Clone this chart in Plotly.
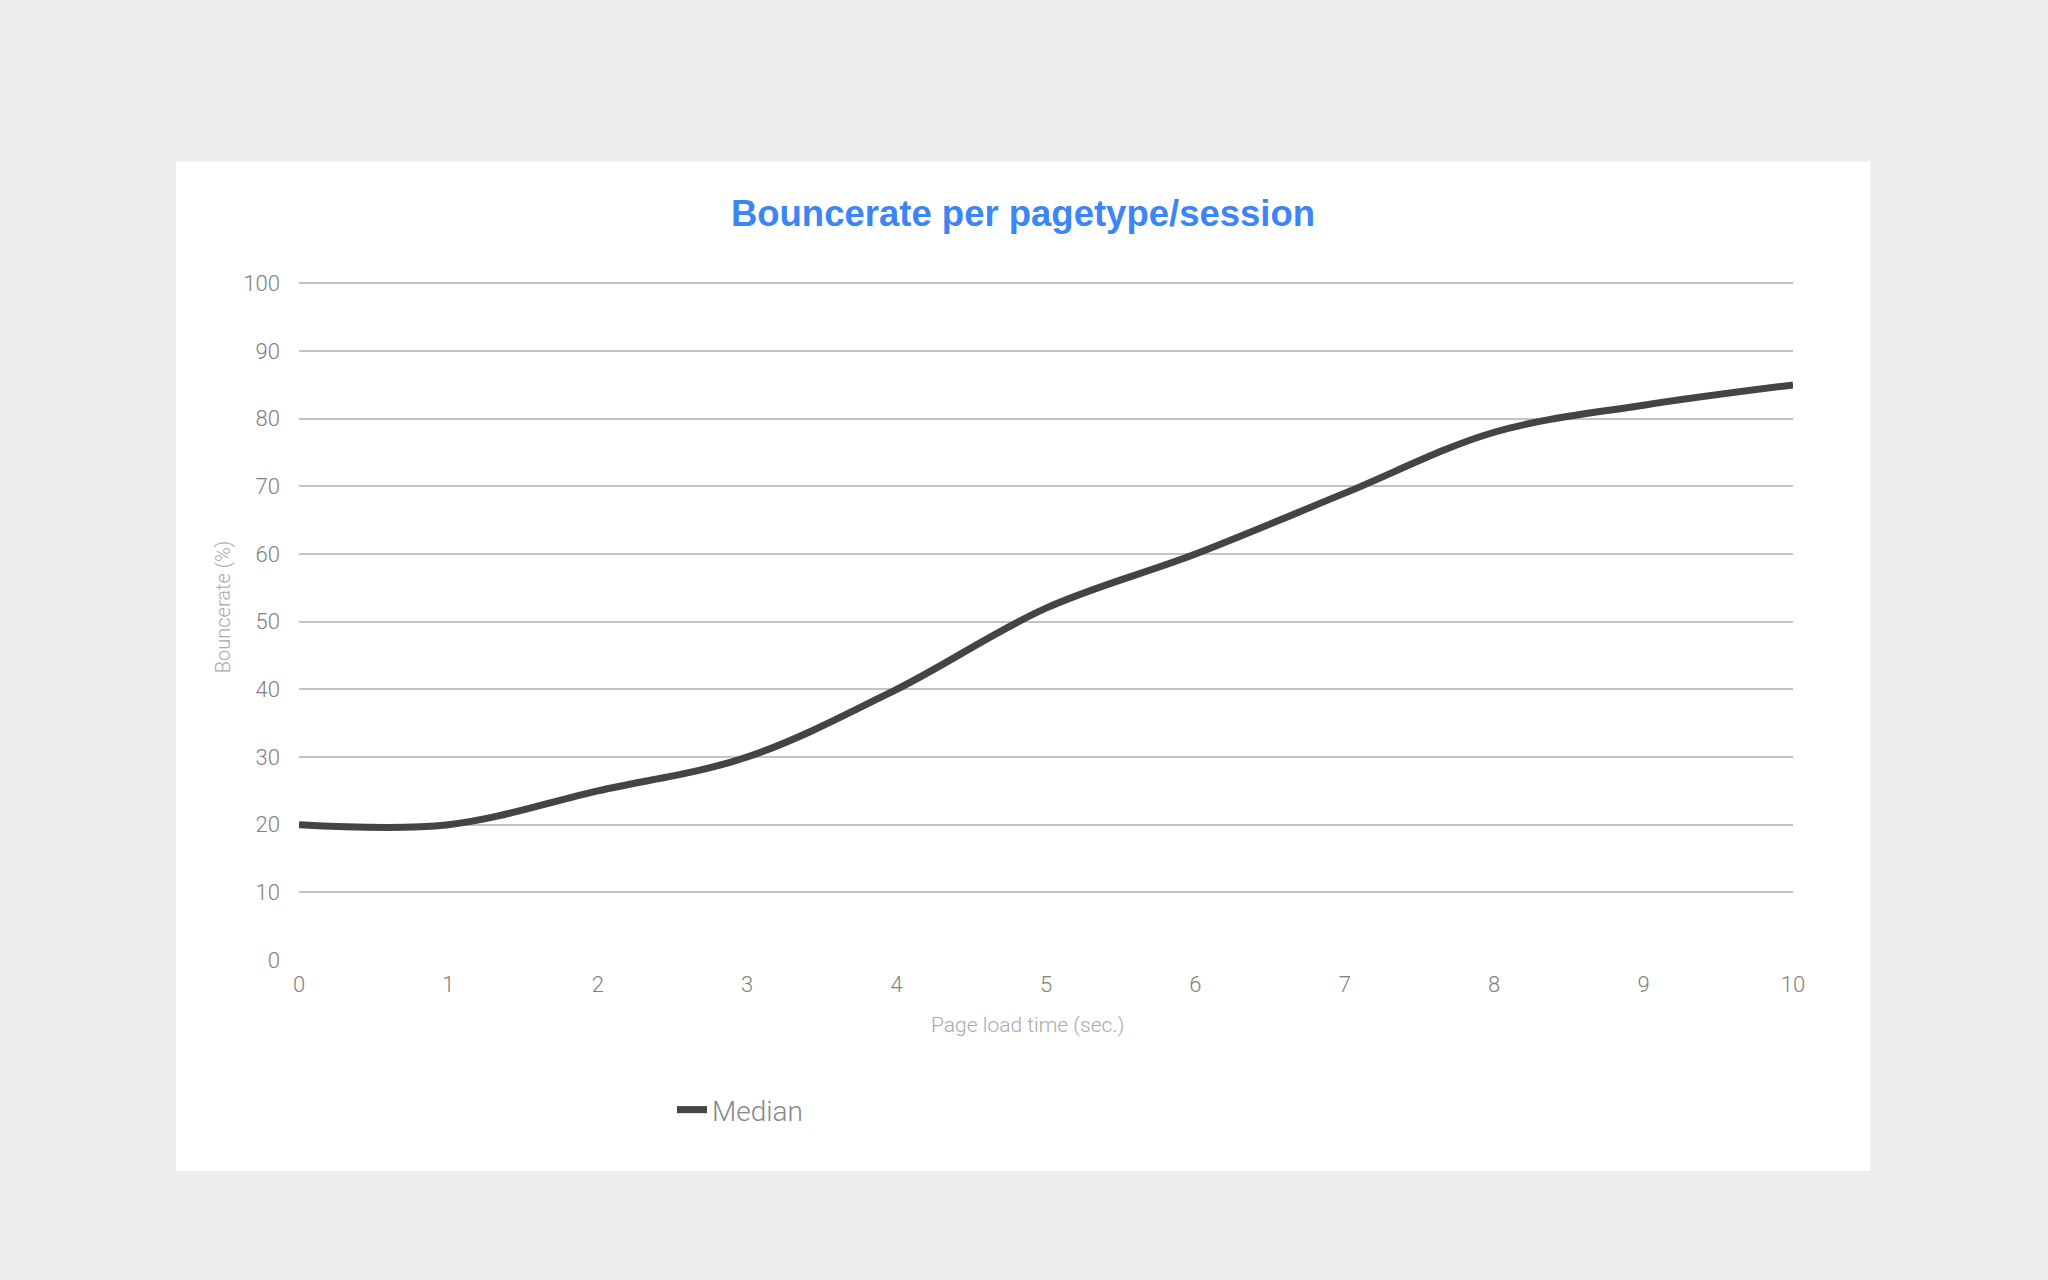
import plotly.graph_objects as go

load_time = [0, 1, 2, 3, 4, 5, 6, 7, 8, 9, 10]
median_bounce = [20, 20, 25, 30, 40, 52, 60, 69, 78, 82, 85]
y_ticks = [0, 10, 20, 30, 40, 50, 60, 70, 80, 90, 100]

W, H = 2048, 1280
Y_MAX = 100.5
L, R, B = 299, 1793, 960
T = 283 - (Y_MAX - 100) * (960 - 283) / 100
pw, ph = R - L, B - T

def px(x):
    return (x - L) / pw

def py(y):
    return (B - y) / ph

fig = go.Figure()
fig.add_trace(go.Scatter(
    x=load_time, y=median_bounce, mode="lines", name="Median",
    line=dict(color="#444444", width=7, shape="spline", smoothing=1.0),
))

fig.update_layout(
    width=W, height=H,
    margin=dict(l=L, r=W - R, t=T, b=H - B, pad=0),
    paper_bgcolor="#eeeeee",
    plot_bgcolor="#ffffff",
    title=dict(
        text="<b>Bouncerate per pagetype/session</b>",
        x=1023 / W, xanchor="center", xref="container",
        y=1 - 213 / H, yanchor="middle",
        font=dict(family="Liberation Sans, Arial, sans-serif", size=36.5, color="#3b86f2"),
    ),
    xaxis=dict(
        range=[0, 10], tickvals=load_time, showgrid=False, zeroline=False,
        showline=False, ticks="",
        tickfont=dict(family="Roboto", size=22, color="#808080", weight=300),
        ticklabelstandoff=9,
    ),
    yaxis=dict(
        range=[0, Y_MAX], tickvals=y_ticks, showgrid=True, gridcolor="#c4c4c4",
        gridwidth=1.5, zeroline=False, showline=False, ticks="",
        tickfont=dict(family="Roboto", size=22, color="#808080", weight=300),
        ticklabelstandoff=18,
    ),
    showlegend=True,
    legend=dict(
        orientation="h", x=px(672), xanchor="left", y=py(1110), yanchor="middle",
        font=dict(family="Roboto", size=28, color="#888888", weight=300),
        bgcolor="rgba(0,0,0,0)",
    ),
    shapes=[dict(
        type="rect", xref="paper", yref="paper", layer="below",
        x0=px(176), x1=px(1870), y0=py(1171), y1=py(161),
        fillcolor="#ffffff", line=dict(width=0),
    )],
    annotations=[
        dict(text="Page load time (sec.)", xref="paper", yref="paper",
             x=px(1027), y=py(1025), xanchor="center", yanchor="middle",
             showarrow=False,
             font=dict(family="Roboto", size=21, color="#aaaaaa", weight=300)),
        dict(text="Bouncerate (%)", xref="paper", yref="paper",
             x=px(223), y=py(607), xanchor="center", yanchor="middle",
             textangle=-90, showarrow=False,
             font=dict(family="Roboto", size=20, color="#aaaaaa", weight=300)),
    ],
)

fig.write_html(
    "out.html",
    config={"displayModeBar": False},
    post_script="document.body.style.margin='0';document.body.style.background='#eeeeee';",
)
